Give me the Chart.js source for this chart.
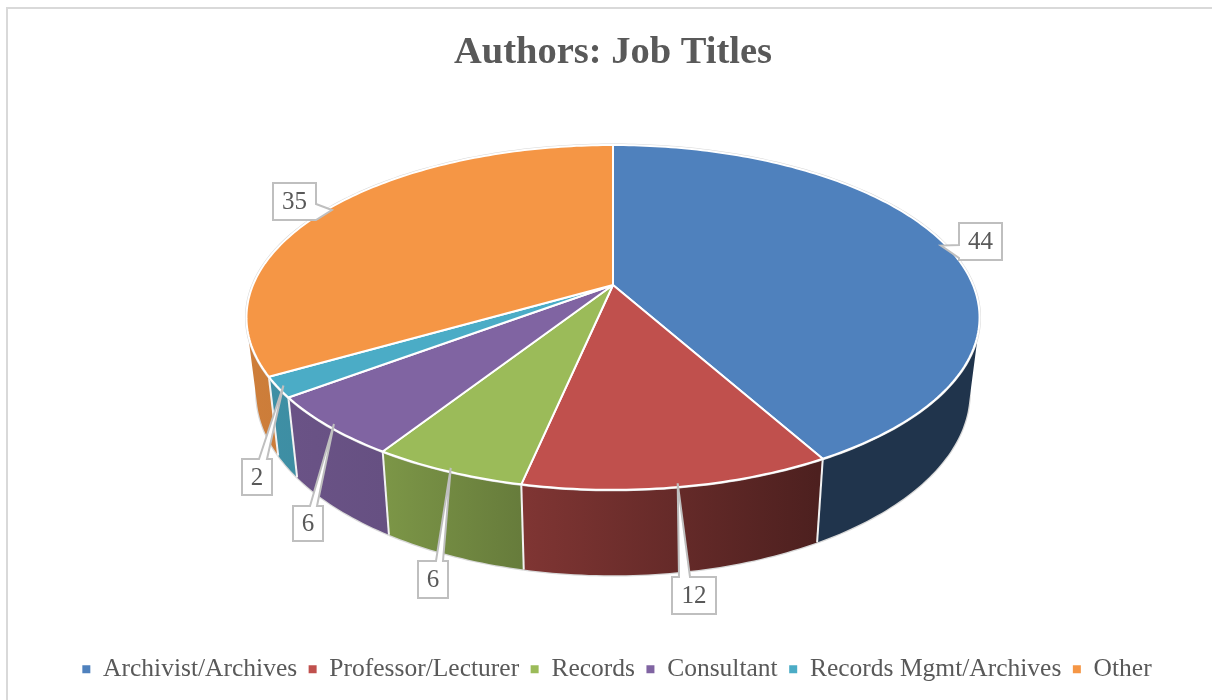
<!DOCTYPE html>
<html>
<head>
<meta charset="utf-8">
<title>Authors: Job Titles</title>
<script src="https://cdn.jsdelivr.net/npm/chart.js@4"></script>
<style>
  html, body { margin: 0; padding: 0; background: #fff; overflow: hidden; }
  #frame { position: absolute; left: 6px; top: 7px; right: -10px; bottom: -10px; border: 2px solid #d9d9d9; }
  #jobTitles { position: absolute; left: 0; top: 0; }
</style>
</head>
<body>
<div id="frame"></div>
<canvas id="jobTitles" width="1212" height="700"></canvas>
<script>
const chartTitle = "Authors: Job Titles";
const jobTitles = ["Archivist/Archives", "Professor/Lecturer", "Records", "Consultant", "Records Mgmt/Archives", "Other"];
const authorCounts = [44, 12, 6, 6, 2, 35];
const sliceColors = ["#4f81bd", "#c0504d", "#9bbb59", "#8064a2", "#4bacc6", "#f59645"];

// value boxes: x, y, w, h, which edge the pointer leaves from, and where on that edge
const calloutBoxes = [
  { x: 959, y: 223, w: 43, h: 37, edge: "left", from: 245, to: 258 },
  { x: 672, y: 577, w: 44, h: 37, edge: "top", from: 679, to: 690 },
  { x: 418, y: 561, w: 30, h: 37, edge: "top", from: 436, to: 443 },
  { x: 293, y: 506, w: 30, h: 35, edge: "top", from: 310, to: 317 },
  { x: 242, y: 459, w: 30, h: 36, edge: "top", from: 259, to: 267 },
  { x: 273, y: 183, w: 43, h: 37, edge: "right", from: 204, to: 220 },
];

const textColor = "#595959";
const serif = "'Liberation Serif', 'DejaVu Serif', serif";

// tilted-disc projection of the pie
const pieCenterY = 285;
const tilt = 0.462;
const perspective = -0.188;

// wall darkening across the page, [x, factor]
const wallShade = [[247, 0.84], [384, 0.80], [525, 0.66], [818, 0.40], [980, 0.40]];

function project(arc, angle, scale) {
  const u = Math.cos(angle) * (scale || 1);
  const v = Math.sin(angle) * (scale || 1);
  const w = 1 + perspective * v;
  return { x: arc.x + arc.outerRadius * u / w, y: pieCenterY + arc.outerRadius * tilt * v / w };
}

// same rim point, one pie-thickness lower
function drop(p, cx) {
  return { x: p.x - 0.027 * (p.x - cx), y: p.y + 75 + 0.06 * (p.y - 315) };
}

function rimPoints(arc) {
  const pts = [];
  const n = Math.max(2, Math.ceil((arc.endAngle - arc.startAngle) / (Math.PI / 180)));
  for (let i = 0; i <= n; i++) {
    pts.push(project(arc, arc.startAngle + (arc.endAngle - arc.startAngle) * i / n));
  }
  return pts;
}

function shaded(hex, f) {
  const n = parseInt(hex.slice(1), 16);
  return `rgb(${(n >> 16) * f},${((n >> 8) & 255) * f},${(n & 255) * f})`;
}

function signedArea(q) {
  let sum = 0;
  q.forEach((p, i) => {
    const n = q[(i + 1) % q.length];
    sum += p.x * n.y - n.x * p.y;
  });
  return sum;
}

function drawWall(ctx, arc, color) {
  const top = rimPoints(arc);
  const bottom = top.map(p => drop(p, arc.x));

  // pale line under the bottom edge
  ctx.beginPath();
  bottom.forEach((p, i) => i ? ctx.lineTo(p.x, p.y) : ctx.moveTo(p.x, p.y));
  ctx.strokeStyle = "#d8d8d8";
  ctx.lineWidth = 2.5;
  ctx.stroke();

  const grad = ctx.createLinearGradient(wallShade[0][0], 0, wallShade[wallShade.length - 1][0], 0);
  const span = wallShade[wallShade.length - 1][0] - wallShade[0][0];
  wallShade.forEach(s => grad.addColorStop((s[0] - wallShade[0][0]) / span, shaded(color, s[1])));

  // one small quad per degree, all wound the same way so a single fill has no seams
  // and the silhouette at both ends of the disc comes out straight
  ctx.beginPath();
  for (let i = 0; i < top.length - 1; i++) {
    const quad = [top[i], top[i + 1], bottom[i + 1], bottom[i]];
    if (signedArea(quad) < 0) quad.reverse();
    quad.forEach((p, j) => j ? ctx.lineTo(p.x, p.y) : ctx.moveTo(p.x, p.y));
    ctx.closePath();
  }
  ctx.fillStyle = grad;
  ctx.fill("nonzero");
}

function drawWallSeam(ctx, arc, angle) {
  const a = project(arc, angle);
  const b = drop(a, arc.x);
  ctx.beginPath();
  ctx.moveTo(a.x, a.y);
  ctx.lineTo(b.x, b.y);
  ctx.strokeStyle = "#f2f2f2";
  ctx.lineWidth = 2;
  ctx.stroke();
}

function drawTop(ctx, arc, color) {
  const rim = rimPoints(arc);
  ctx.beginPath();
  ctx.moveTo(arc.x, pieCenterY);
  rim.forEach(p => ctx.lineTo(p.x, p.y));
  ctx.closePath();
  ctx.fillStyle = color;
  ctx.fill();
  ctx.strokeStyle = "#fff";
  ctx.lineWidth = 2;
  ctx.lineJoin = "round";
  ctx.stroke();
}

function drawCallout(ctx, box, tip, text) {
  const { x, y, w, h, edge, from, to } = box;
  ctx.beginPath();
  ctx.moveTo(x, y);
  if (edge === "top") { ctx.lineTo(from, y); ctx.lineTo(tip.x, tip.y); ctx.lineTo(to, y); }
  ctx.lineTo(x + w, y);
  if (edge === "right") { ctx.lineTo(x + w, from); ctx.lineTo(tip.x, tip.y); ctx.lineTo(x + w, to); }
  ctx.lineTo(x + w, y + h);
  ctx.lineTo(x, y + h);
  if (edge === "left") { ctx.lineTo(x, to); ctx.lineTo(tip.x, tip.y); ctx.lineTo(x, from); }
  ctx.closePath();
  ctx.fillStyle = "#fff";
  ctx.strokeStyle = "#bfbfbf";
  ctx.lineWidth = 2;
  ctx.lineJoin = "miter";
  ctx.fill();
  ctx.stroke();

  ctx.fillStyle = textColor;
  ctx.font = "25px " + serif;
  ctx.textAlign = "center";
  ctx.textBaseline = "middle";
  ctx.fillText(text, x + w / 2, y + h / 2 + 1);
}

// the pie controller works out the slice angles; they get painted here as a tilted disc
const tiltedPie = {
  id: "tiltedPie",
  afterLayout(chart) {
    // legend sits a little right of the pie centre
    chart.legend.left += 4;
    chart.legend.right += 4;
  },
  beforeDatasetDraw(chart, args) {
    const ctx = chart.ctx;
    const arcs = args.meta.data;
    ctx.save();
    arcs.forEach((arc, i) => drawWall(ctx, arc, sliceColors[i]));
    arcs.forEach(arc => drawWallSeam(ctx, arc, arc.startAngle));

    // faint halo round the disc edge
    arcs.forEach(arc => {
      const rim = rimPoints(arc);
      ctx.beginPath();
      rim.forEach((p, i) => i ? ctx.lineTo(p.x, p.y) : ctx.moveTo(p.x, p.y));
      ctx.strokeStyle = "#d8d8d8";
      ctx.lineWidth = 3;
      ctx.stroke();
    });
    arcs.forEach((arc, i) => drawTop(ctx, arc, sliceColors[i]));

    arcs.forEach((arc, i) => {
      const tip = project(arc, (arc.startAngle + arc.endAngle) / 2, 0.985);
      drawCallout(ctx, calloutBoxes[i], tip, String(authorCounts[i]));
    });
    ctx.restore();
    return false;
  },
};

new Chart(document.getElementById("jobTitles"), {
  type: "pie",
  data: {
    labels: jobTitles,
    datasets: [{
      data: authorCounts,
      backgroundColor: sliceColors,
      borderWidth: 0,
    }],
  },
  options: {
    responsive: false,
    animation: false,
    radius: 360,
    layout: { padding: { left: 14, bottom: 8 } },
    plugins: {
      tooltip: { enabled: false },
      title: {
        display: true,
        text: chartTitle,
        color: textColor,
        font: { family: serif, size: 38.5, weight: "bold" },
        padding: { top: 30, bottom: 10 },
      },
      legend: {
        position: "bottom",
        labels: {
          color: textColor,
          font: { family: serif, size: 25.5 },
          usePointStyle: true,
          pointStyle: "rect",
          boxWidth: 8,
          boxHeight: 8,
          padding: 11.5,
        },
      },
    },
  },
  plugins: [tiltedPie],
});
</script>
</body>
</html>
